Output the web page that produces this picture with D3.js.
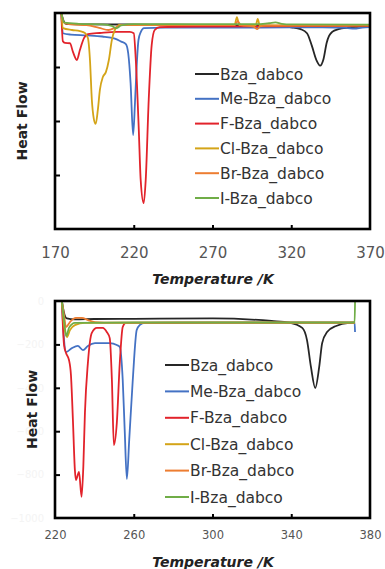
<!DOCTYPE html>
<html>
<head>
<meta charset="utf-8">
<script src="https://cdn.jsdelivr.net/npm/d3@7"></script>
<style>
  body { margin: 0; background: #fff; }
  svg { display: block; font-family: "DejaVu Sans", Verdana, sans-serif; }
</style>
</head>
<body>
<div id="chart"></div>
<script>
// series labels, in legend order
const seriesNames = ['Bza_dabco', 'Me-Bza_dabco', 'F-Bza_dabco', 'Cl-Bza_dabco', 'Br-Bza_dabco', 'I-Bza_dabco'];
const seriesColors = ['#262626', '#4472c4', '#e2232b', '#d4a418', '#ed7d31', '#70ad47'];

// axis ticks
const topTempTicks = [170, 220, 270, 320, 370];
const bottomTempTicks = [220, 260, 300, 340, 380];
const topFlowTicks = [-600, -400, -200];
const bottomFlowTicks = [0, -200, -400, -600, -800, -1000];

// upper panel: [temperature K, heat flow]
const topBza = [[174,0],[175.5,-30],[177,-40],[190,-42],[230,-43],[280,-45],[310,-48],[320,-53],[326,-60],[330,-75],[333,-120],[336,-175],[338.3,-195],[340.5,-170],[342.5,-110],[344,-85],[346,-70],[350,-60],[356,-54],[362,-51],[370,-48]];
const topMe = [[174,0],[175,-75],[180,-80],[190,-83],[200,-87],[208,-95],[212,-106],[215,-115],[216.5,-150],[218,-260],[219.6,-452],[220.8,-330],[222,-180],[223,-100],[224.5,-70],[226.5,-56],[240,-54],[300,-54],[340,-53],[355,-55],[360,-58],[365,-54],[370,-52]];
const topF = [[174,0],[175,-105],[176.3,-111],[179.5,-112],[181.4,-144],[183.9,-174],[185.8,-137],[188.4,-93],[190.9,-78],[198.5,-74],[209,-70],[217.5,-70],[220,-75],[221.3,-174],[223.2,-433],[224.4,-618],[226.3,-704],[227.6,-618],[229.5,-322],[231.4,-118],[233.3,-63],[236.5,-52],[260,-50],[370,-48]];
const topCl = [[174,0],[175.1,-56],[180.8,-63],[185.8,-67],[189,-74],[190.9,-93],[192.2,-174],[193.4,-322],[194.6,-390],[195.8,-411],[197.2,-359],[198.5,-285],[200.4,-237],[202.3,-219],[204.2,-174],[206.1,-100],[208,-63],[211.1,-44],[230,-44],[284,-45],[285.5,-15],[287,-45],[297.5,-45],[298.7,-22],[300,-46],[370,-46]];
const topBr = [[174,0],[176,-38],[180,-42],[190,-45],[198,-55],[204,-63],[208,-55],[212,-45],[230,-44],[284,-45],[286,-30],[288,-45],[296,-50],[298.5,-60],[300,-50],[304,-47],[370,-46]];
const topI = [[174,0],[176,-36],[185,-40],[200,-42],[206,-48],[209,-56],[212,-46],[220,-41],[300,-41],[306,-38],[310,-35],[314,-40],[320,-42],[370,-43]];

// lower panel: [temperature K, heat flow]
const botBza = [[223.5,0],[224.6,-55],[226,-80],[230,-85],[240,-83],[260,-82],[300,-80],[330,-92],[339,-100],[345.6,-124],[348,-180],[350,-304],[352.2,-401],[354.2,-304],[355.7,-194],[358.2,-143],[362.8,-115],[369.4,-101],[372.4,-100]];
const botMe = [[223.5,0],[224.6,-180],[225.6,-235],[228.6,-217],[231.6,-207],[234.2,-226],[236.7,-207],[240.3,-194],[247.8,-194],[251.4,-203],[252.9,-212],[254.4,-364],[255.4,-594],[256.5,-820],[257.7,-640],[259.5,-364],[261.5,-134],[263,-111],[265.6,-101],[300,-100],[360,-100],[372.2,-100],[372.4,-143]];
const botF = [[223.5,0],[224.6,-203],[225.6,-240],[227.1,-272],[228.1,-341],[229.1,-548],[230.1,-779],[230.6,-825],[232.2,-788],[233.5,-903],[234.4,-760],[235.2,-516],[236.7,-286],[238.7,-147],[241.3,-124],[244.3,-124],[246.3,-143],[247.8,-171],[248.9,-364],[249.9,-664],[251.4,-562],[252.9,-286],[254.4,-120],[255.9,-101],[300,-100],[372.4,-100]];
const botCl = [[223.5,0],[224.6,-111],[226.1,-166],[227.6,-134],[230.1,-111],[235.2,-101],[300,-100],[372.4,-100]];
const botBr = [[223.5,0],[224.6,-65],[225.6,-120],[227.6,-97],[230.6,-78],[233.7,-78],[236.7,-88],[240.3,-97],[250,-100],[372.4,-100]];
const botI = [[223.5,0],[224.6,-90],[225.8,-161],[227.1,-124],[230.1,-101],[260,-99],[372.2,-99],[372.4,-5]];

const svg = d3.select('#chart').append('svg')
  .attr('width', 385)
  .attr('height', 569);

function drawPanel(opt) {
  const x = d3.scaleLinear().domain(opt.xDomain).range([opt.left, opt.right]);
  const y = d3.scaleLinear().domain(opt.yDomain).range([opt.bottom, opt.top]);
  const g = svg.append('g');

  const clipId = 'clip' + opt.top;
  g.append('clipPath').attr('id', clipId)
    .append('rect')
    .attr('x', opt.left).attr('y', opt.top)
    .attr('width', opt.right - opt.left).attr('height', opt.bottom - opt.top);

  const line = d3.line()
    .x(d => x(d[0]))
    .y(d => y(d[1]))
    .curve(d3.curveMonotoneX);

  g.append('g').attr('clip-path', `url(#${clipId})`)
    .selectAll('path')
    .data(opt.series)
    .enter().append('path')
    .attr('d', d => line(d))
    .attr('fill', 'none')
    .attr('stroke', (d, i) => seriesColors[i])
    .attr('stroke-width', 1.8)
    .attr('stroke-linejoin', 'round');

  // x axis
  const xa = g.append('g')
    .attr('transform', `translate(0,${opt.bottom})`)
    .call(d3.axisBottom(x).tickValues(opt.xTicks).tickSize(-4).tickPadding(opt.xPad).tickFormat(d3.format('d')));
  xa.select('.domain').remove();
  xa.selectAll('.tick line').attr('stroke', '#000').attr('stroke-width', 2);
  xa.selectAll('.tick text').attr('fill', '#555').style('font-size', opt.xFont + 'px')
    .style('font-family', '"DejaVu Sans", Verdana, sans-serif');
  xa.selectAll('.tick').filter(d => d === opt.xDomain[0] || d === opt.xDomain[1]).select('line').remove();

  // y axis (labels nearly white, as in the original)
  const ya = g.append('g')
    .attr('transform', `translate(${opt.left},0)`)
    .call(d3.axisLeft(y).tickValues(opt.yTicks).tickSize(-5).tickPadding(11)
      .tickFormat(opt.yLabels ? d3.format('d') : ''));
  ya.select('.domain').remove();
  ya.selectAll('.tick line').attr('stroke', '#000').attr('stroke-width', 2);
  ya.selectAll('.tick').filter(d => d === opt.yDomain[0] || d === opt.yDomain[1]).select('line').remove();
  ya.selectAll('.tick text')
    .style('fill', '#f4f4f4')
    .style('font-size', '10px')
    .style('font-family', '"DejaVu Sans", Verdana, sans-serif');

  // frame
  g.append('rect')
    .attr('x', opt.left).attr('y', opt.top)
    .attr('width', opt.right - opt.left).attr('height', opt.bottom - opt.top)
    .attr('fill', 'none').attr('stroke', '#000').attr('stroke-width', 2.6);

  // legend
  const lg = g.append('g');
  seriesNames.forEach((name, i) => {
    const ly = opt.legendY + i * opt.legendStep;
    lg.append('line')
      .attr('x1', opt.legendX).attr('x2', opt.legendX + opt.legendLine)
      .attr('y1', ly).attr('y2', ly)
      .attr('stroke', seriesColors[i]).attr('stroke-width', 2);
    lg.append('text')
      .attr('x', opt.legendX + opt.legendLine + 1).attr('y', ly)
      .attr('dy', '0.36em')
      .attr('fill', '#333')
      .style('font-size', '15.5px')
      .text(name);
  });

  // axis titles
  g.append('text')
    .attr('transform', `translate(${opt.yTitleX},${(opt.top + opt.bottom) / 2}) rotate(-90)`)
    .attr('text-anchor', 'middle').attr('dy', '0.36em')
    .attr('fill', '#222').style('font-size', '14px').style('font-weight', 'bold')
    .text('Heat Flow');
  g.append('text')
    .attr('x', 213).attr('y', opt.xTitleY)
    .attr('text-anchor', 'middle').attr('dy', '0.36em')
    .attr('fill', '#222').style('font-size', '14px').style('font-weight', 'bold').style('font-style', 'italic')
    .text('Temperature /K');
}

drawPanel({
  xDomain: [170, 370], yDomain: [-800, 0],
  left: 55, right: 370, top: 13, bottom: 229,
  xTicks: topTempTicks, yTicks: topFlowTicks, yLabels: false,
  xPad: 18, xFont: 15,
  series: [topBza, topMe, topF, topCl, topBr, topI],
  legendX: 195, legendY: 74, legendStep: 24.8, legendLine: 24,
  yTitleX: 22, xTitleY: 279
});

drawPanel({
  xDomain: [220, 380], yDomain: [-1000, 0],
  left: 55, right: 370, top: 301, bottom: 518,
  xTicks: bottomTempTicks, yTicks: bottomFlowTicks, yLabels: true,
  xPad: 13, xFont: 11.5,
  series: [botBza, botMe, botF, botCl, botBr, botI],
  legendX: 165, legendY: 365, legendStep: 26.4, legendLine: 24,
  yTitleX: 32, xTitleY: 562
});
</script>
</body>
</html>
